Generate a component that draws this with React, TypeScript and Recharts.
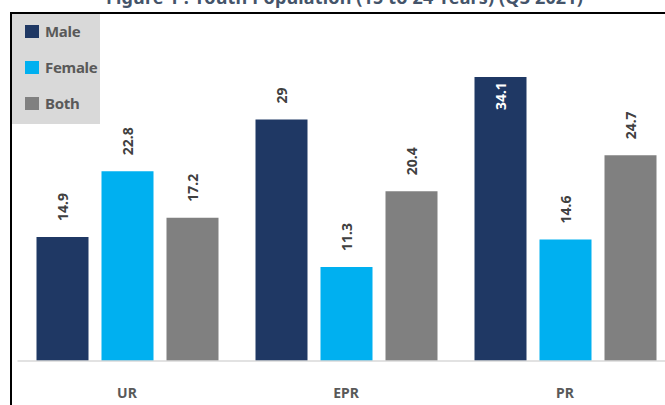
import { Bar, BarChart, Legend, LabelList, XAxis, YAxis } from "recharts";

const categories = ["UR", "EPR", "PR"];
const male = [14.9, 29, 34.1];
const female = [22.8, 11.3, 14.6];
const both = [17.2, 20.4, 24.7];

const series = [
  { key: "male", name: "Male", color: "#1F3864" },
  { key: "female", name: "Female", color: "#00B0F0" },
  { key: "both", name: "Both", color: "#808080" },
];

const data = categories.map((cat, i) => ({
  cat,
  male: male[i],
  female: female[i],
  both: both[i],
}));

const FONT = "'Noto Sans', 'Open Sans', sans-serif";

function RotatedLabel(props: any) {
  const { x, y, width, value } = props;
  const cx = Number(x) + Number(width) / 2;
  const top = Number(y);
  // the tallest bar gets its label inside, near its top
  const inside = Number(value) >= 30;
  const ly = inside ? top + 5 : top - 16;
  return (
    <text
      x={cx}
      y={ly}
      transform={`rotate(-90, ${cx}, ${ly})`}
      textAnchor={inside ? "end" : "start"}
      dominantBaseline="central"
      fill={inside ? "#FFFFFF" : "#404040"}
      fontSize={14}
      fontWeight={700}
      fontFamily={FONT}
    >
      {value}
    </text>
  );
}

function LegendBox() {
  return (
    <div
      style={{
        background: "#D9D9D9",
        width: 88,
        height: 110,
        boxSizing: "border-box",
        paddingTop: 5,
        paddingLeft: 13,
      }}
    >
      {series.map((s) => (
        <div
          key={s.key}
          style={{ display: "flex", alignItems: "center", height: 36, marginTop: -6, marginBottom: 6 }}
        >
          <span style={{ width: 14, height: 13, background: s.color, marginRight: 6 }} />
          <span
            style={{
              color: "#595959",
              fontFamily: FONT,
              fontWeight: 700,
              fontSize: 15,
              letterSpacing: -0.3,
            }}
          >
            {s.name}
          </span>
        </div>
      ))}
    </div>
  );
}

export default function App() {
  return (
    <div
      style={{
        position: "absolute",
        left: 0,
        top: 0,
        width: 665,
        height: 405,
        overflow: "hidden",
        background: "#FFFFFF",
      }}
    >
      <div
        style={{
          position: "absolute",
          left: 12,
          width: 665,
          top: -14,
          textAlign: "center",
          color: "#44546A",
          fontFamily: FONT,
          fontWeight: 700,
          fontSize: 18,
          letterSpacing: 0.15,
          lineHeight: "22px",
          whiteSpace: "nowrap",
        }}
      >
        Figure 1 : Youth Population (15 to 24 Years) (Q3 2021)
      </div>
      <div
        style={{
          position: "absolute",
          left: 10,
          top: 12,
          width: 720,
          height: 500,
          borderLeft: "2px solid #000000",
          borderTop: "2px solid #000000",
        }}
      />
      <div style={{ position: "absolute", left: 0, top: 0 }}>
        <BarChart
          width={680}
          height={420}
          data={data}
          margin={{ top: 28, right: 5.5, bottom: 0, left: 17.5 }}
          barSize={52}
          barGap={13}
        >
          <XAxis
            dataKey="cat"
            height={59}
            tickLine={false}
            axisLine={{ stroke: "#D9D9D9", strokeWidth: 1.5 }}
            tickMargin={21}
            tick={{ fill: "#595959", fontSize: 14, fontWeight: 700, fontFamily: FONT }}
          />
          <YAxis hide domain={[0, 40]} />
          <Legend
            layout="horizontal"
            verticalAlign="middle"
            align="center"
            wrapperStyle={{ position: "absolute", left: 12, top: 14, width: 88, height: 110 }}
            content={() => <LegendBox />}
          />
          {series.map((s) => (
            <Bar key={s.key} dataKey={s.key} name={s.name} fill={s.color} isAnimationActive={false}>
              <LabelList dataKey={s.key} content={RotatedLabel} />
            </Bar>
          ))}
        </BarChart>
      </div>
    </div>
  );
}
